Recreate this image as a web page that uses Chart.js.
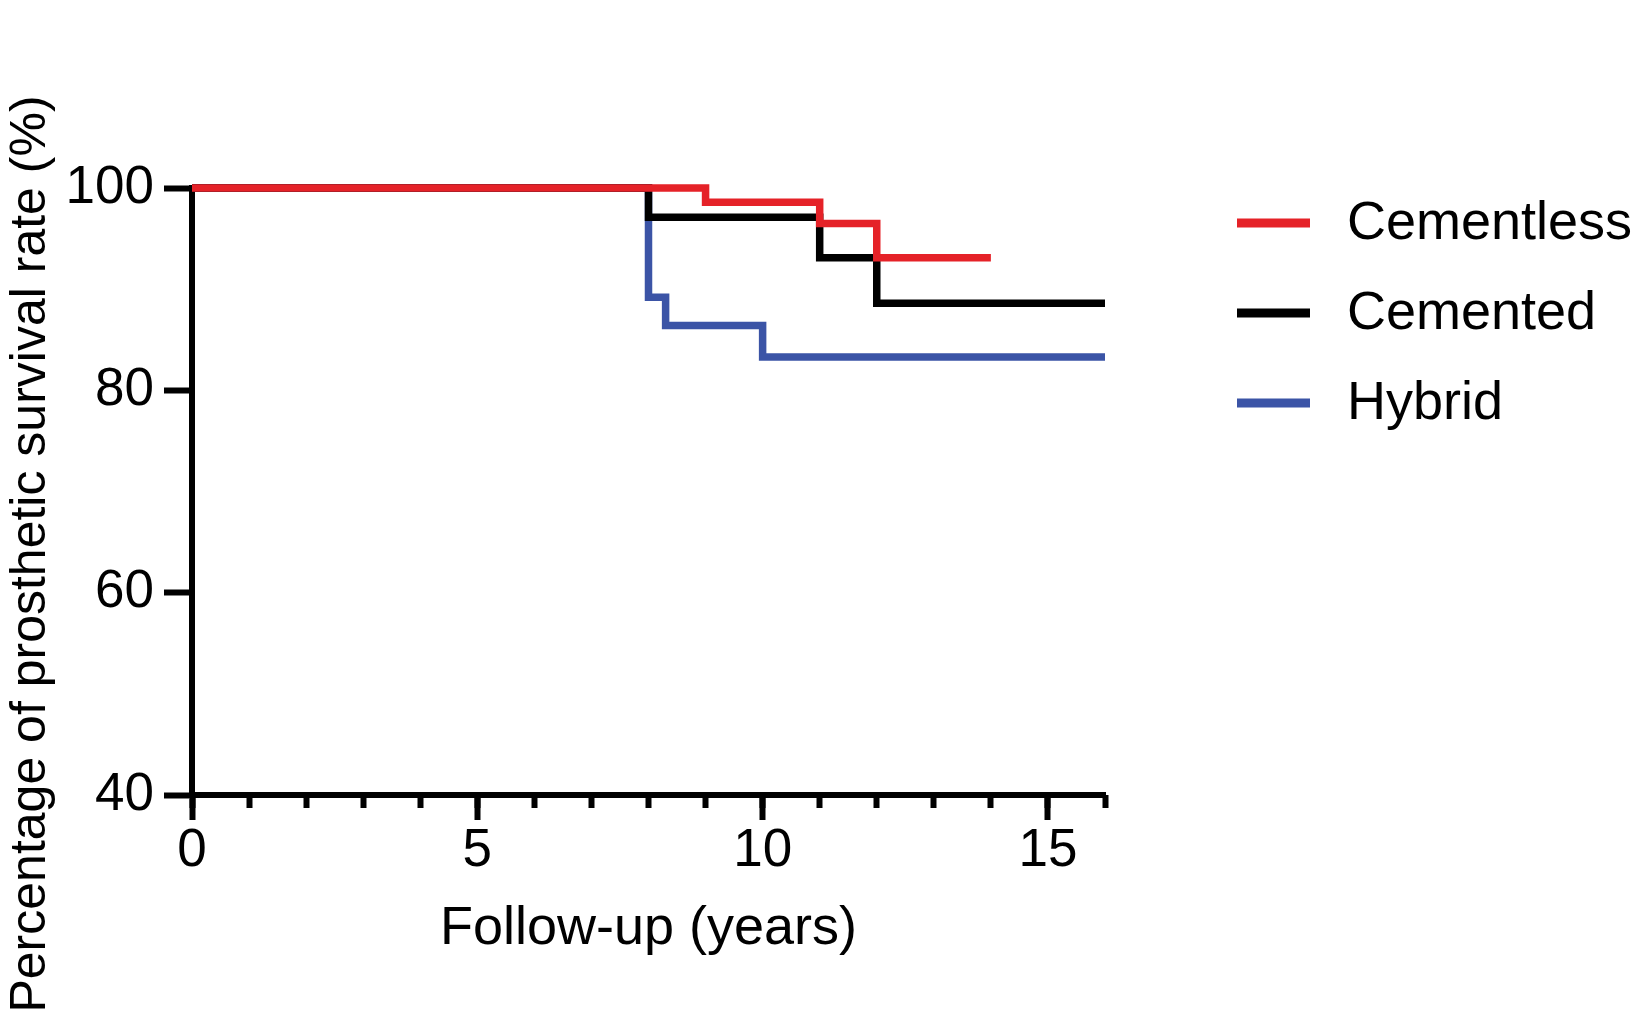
<!DOCTYPE html>
<html>
<head>
<meta charset="utf-8">
<title>Prosthetic survival</title>
<script src="https://cdn.jsdelivr.net/npm/chart.js@4"></script>
<style>
  html, body { margin: 0; padding: 0; background: #fff; }
  #survivalChart { display: block; }
</style>
</head>
<body>
<canvas id="survivalChart" width="1638" height="1012"></canvas>
<script>
const seriesLabels = ['Cementless', 'Cemented', 'Hybrid'];
const seriesColors = ['#e52228', '#000000', '#3b54a6'];

const cementlessYears = [0, 9, 11, 12, 14];
const cementlessSurvival = [100, 98.6, 96.5, 93.1, 93.1];

const cementedYears = [0, 8, 11, 12, 16];
const cementedSurvival = [100, 97.1, 93.1, 88.6, 88.6];

const hybridYears = [0, 8, 8.3, 10, 16];
const hybridSurvival = [100, 89.2, 86.4, 83.3, 83.3];

const xTickLabels = [0, 5, 10, 15];
const yTickLabels = [40, 60, 80, 100];

const FONT = "'Liberation Sans', Arial, Helvetica, sans-serif";
const FONT_SIZE = 53;

function toPoints(xs, ys) {
    return xs.map((x, i) => ({ x: x, y: ys[i] }));
}

// y title sits lower than the plot centre in the original, so draw it by hand
const yTitlePlugin = {
    id: 'yTitle',
    afterDraw(chart) {
        const ctx = chart.ctx;
        ctx.save();
        ctx.translate(31, 554);
        ctx.rotate(-Math.PI / 2);
        ctx.font = '50px ' + FONT;
        ctx.fillStyle = '#000';
        ctx.textAlign = 'center';
        ctx.textBaseline = 'middle';
        ctx.fillText('Percentage of prosthetic survival rate (%)', 0, 0);
        ctx.restore();
    }
};

// legend to the right of the plot, line sample + label
const sideLegendPlugin = {
    id: 'sideLegend',
    afterDraw(chart) {
        const ctx = chart.ctx;
        const area = chart.chartArea;
        const x0 = area.right + 132;
        ctx.save();
        ctx.font = '54px ' + FONT;
        chart.data.datasets.forEach((ds, i) => {
            const y = 220 + i * 90;
            ctx.strokeStyle = ds.borderColor;
            ctx.lineWidth = 9;
            ctx.beginPath();
            ctx.moveTo(x0, y + 3);
            ctx.lineTo(x0 + 73, y + 3);
            ctx.stroke();
            ctx.fillStyle = '#000';
            ctx.textAlign = 'left';
            ctx.textBaseline = 'alphabetic';
            ctx.fillText(ds.label, x0 + 110, y + 19);
        });
        ctx.restore();
    }
};

const ctx = document.getElementById('survivalChart').getContext('2d');
const survivalChart = new Chart(ctx, {
    type: 'line',
    data: {
        datasets: [{
            label: seriesLabels[0],
            data: toPoints(cementlessYears, cementlessSurvival),
            borderColor: seriesColors[0]
        }, {
            label: seriesLabels[1],
            data: toPoints(cementedYears, cementedSurvival),
            borderColor: seriesColors[1]
        }, {
            label: seriesLabels[2],
            data: toPoints(hybridYears, hybridSurvival),
            borderColor: seriesColors[2]
        }]
    },
    options: {
        responsive: false,
        animation: false,
        devicePixelRatio: 1,
        layout: {
            padding: { top: 188, right: 533, left: 0, bottom: 0 }
        },
        datasets: {
            line: {
                stepped: 'before',
                borderWidth: 7.5,
                pointRadius: 0,
                fill: false,
                clip: false,
                borderJoinStyle: 'miter',
                borderCapStyle: 'butt'
            }
        },
        plugins: {
            legend: { display: false },
            tooltip: { enabled: false }
        },
        scales: {
            x: {
                type: 'linear',
                position: 'bottom',
                weight: 1,
                min: 0,
                max: 16,
                afterFit: scale => { scale.height = 217; },
                afterBuildTicks: scale => {
                    scale.ticks = xTickLabels.map(v => ({ value: v }));
                },
                border: { display: true, color: '#000', width: 6 },
                grid: {
                    drawOnChartArea: false,
                    drawTicks: true,
                    tickLength: 25,
                    tickWidth: 6,
                    tickColor: '#000'
                },
                ticks: {
                    color: '#000',
                    font: { family: FONT, size: FONT_SIZE },
                    padding: 0,
                    maxRotation: 0,
                    autoSkip: false
                },
                title: {
                    display: true,
                    text: 'Follow-up (years)',
                    color: '#000',
                    font: { family: FONT, size: 54 },
                    padding: { top: 0, bottom: 50 }
                }
            },
            xMinor: {
                type: 'linear',
                position: 'bottom',
                weight: 0,
                min: 0,
                max: 16,
                afterFit: scale => { scale.height = 0; },
                border: { display: false },
                grid: {
                    drawOnChartArea: false,
                    drawTicks: true,
                    tickLength: 13,
                    tickWidth: 6,
                    tickColor: '#000'
                },
                ticks: { display: false, stepSize: 1 }
            },
            y: {
                type: 'linear',
                min: 40,
                max: 100,
                afterFit: scale => { scale.width = 192; },
                afterBuildTicks: scale => {
                    scale.ticks = yTickLabels.map(v => ({ value: v }));
                },
                border: { display: true, color: '#000', width: 6 },
                grid: {
                    drawOnChartArea: false,
                    drawTicks: true,
                    tickLength: 28,
                    tickWidth: 6,
                    tickColor: '#000'
                },
                ticks: {
                    color: '#000',
                    font: { family: FONT, size: FONT_SIZE },
                    padding: 10
                }
            }
        }
    },
    plugins: [yTitlePlugin, sideLegendPlugin]
});
</script>
</body>
</html>
